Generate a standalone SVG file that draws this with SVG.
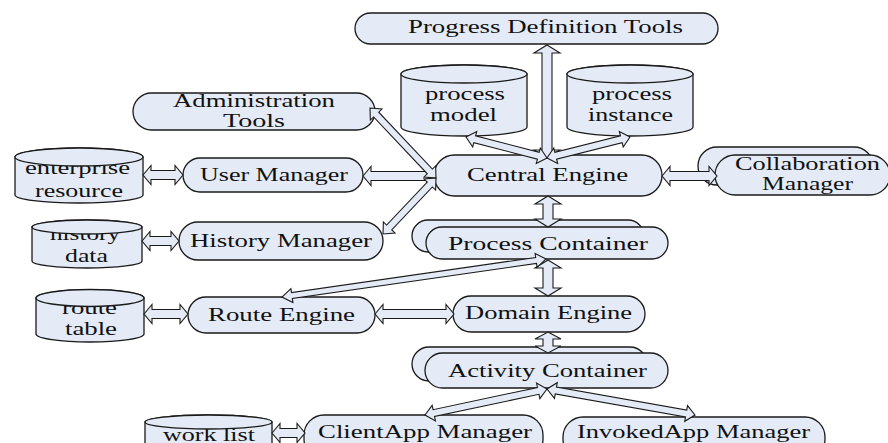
<svg xmlns="http://www.w3.org/2000/svg" width="888" height="443" viewBox="0 0 888 443">
<style>
.n{fill:#E4EBF6;stroke:#1a1a1a;stroke-width:1.3}
.c{fill:#E4EBF6;stroke:#1a1a1a;stroke-width:1.3}
.a{fill:#E4EBF6;stroke:#1a1a1a;stroke-width:1.1;stroke-linejoin:miter}
text{font-family:"Liberation Serif","Times New Roman",serif;font-size:19px;fill:#111}
</style>
<rect width="888" height="443" fill="#fff"/>

<g id="progress-definition-tools">
<rect class="n" x="355" y="13" width="363" height="31" rx="15.5"/>
<text x="408" y="33" textLength="275" lengthAdjust="spacingAndGlyphs">Progress Definition Tools</text>
</g>

<g id="process-model">
<path class="c" d="M401 74 L401 127 A63 9 0 0 0 527 127 L527 74 A63 9 0 0 0 401 74 Z"/>
<ellipse class="c" cx="464" cy="74" rx="63" ry="9"/>
<text x="425" y="100" textLength="80" lengthAdjust="spacingAndGlyphs">process</text>
<text x="430" y="121" textLength="67" lengthAdjust="spacingAndGlyphs">model</text>
</g>

<g id="process-instance">
<path class="c" d="M567 74 L567 127 A63 9 0 0 0 693 127 L693 74 A63 9 0 0 0 567 74 Z"/>
<ellipse class="c" cx="630" cy="74" rx="63" ry="9"/>
<text x="592" y="100" textLength="80" lengthAdjust="spacingAndGlyphs">process</text>
<text x="588" y="121" textLength="85" lengthAdjust="spacingAndGlyphs">instance</text>
</g>

<g id="administration-tools">
<rect class="n" x="133" y="93" width="242" height="37" rx="18.5"/>
<text x="173" y="107" textLength="162" lengthAdjust="spacingAndGlyphs">Administration</text>
<text x="223" y="127" textLength="62" lengthAdjust="spacingAndGlyphs">Tools</text>
</g>

<g id="enterprise-resource">
<path class="c" d="M15 157 L15 195 A64 8 0 0 0 143 195 L143 157 A64 9 0 0 0 15 157 Z"/>
<text x="25" y="174" textLength="105" lengthAdjust="spacingAndGlyphs">enterprise</text>
<ellipse class="c" cx="79" cy="157" rx="64" ry="9"/>
<text x="35" y="197" textLength="88" lengthAdjust="spacingAndGlyphs">resource</text>
</g>

<g id="user-manager">
<rect class="n" x="183" y="158" width="180" height="34" rx="17"/>
<text x="200" y="181" textLength="148" lengthAdjust="spacingAndGlyphs">User Manager</text>
</g>

<g id="central-engine">
<rect class="n" x="434" y="155" width="228" height="41" rx="20.5"/>
<text x="467" y="181" textLength="161" lengthAdjust="spacingAndGlyphs">Central Engine</text>
</g>

<g id="collaboration-manager">
<rect class="n" x="698" y="147" width="175" height="38" rx="19"/>
<rect class="n" x="715" y="155" width="175" height="40" rx="20"/>
<text x="735" y="170" textLength="145" lengthAdjust="spacingAndGlyphs">Collaboration</text>
<text x="762" y="190" textLength="91" lengthAdjust="spacingAndGlyphs">Manager</text>
</g>

<g id="history-data">
<path class="c" d="M32 227 L32 261 A55 7 0 0 0 142 261 L142 227 A55 7 0 0 0 32 227 Z"/>
<text x="50" y="240" textLength="70" lengthAdjust="spacingAndGlyphs">history</text>
<ellipse class="c" cx="87" cy="227" rx="55" ry="7"/>
<text x="65" y="262" textLength="43" lengthAdjust="spacingAndGlyphs">data</text>
</g>

<g id="history-manager">
<rect class="n" x="179" y="222" width="204" height="38" rx="19"/>
<text x="190" y="247" textLength="182" lengthAdjust="spacingAndGlyphs">History Manager</text>
</g>

<g id="process-container">
<rect class="n" x="412" y="220" width="232" height="32" rx="16"/>
<rect class="n" x="426" y="227" width="242" height="32" rx="16"/>
<text x="448" y="250" textLength="200" lengthAdjust="spacingAndGlyphs">Process  Container</text>
</g>

<g id="route-table">
<path class="c" d="M36 298 L36 334 A54 8 0 0 0 144 334 L144 298 A54 8 0 0 0 36 298 Z"/>
<text x="62" y="314" textLength="55" lengthAdjust="spacingAndGlyphs">route</text>
<ellipse class="c" cx="90" cy="298" rx="54" ry="8.5"/>
<text x="65" y="335" textLength="52" lengthAdjust="spacingAndGlyphs">table</text>
</g>

<g id="route-engine">
<rect class="n" x="188" y="297" width="187" height="36" rx="18"/>
<text x="208" y="321" textLength="147" lengthAdjust="spacingAndGlyphs">Route Engine</text>
</g>

<g id="domain-engine">
<rect class="n" x="453" y="296" width="192" height="36" rx="18"/>
<text x="465" y="319" textLength="167" lengthAdjust="spacingAndGlyphs">Domain Engine</text>
</g>

<g id="activity-container">
<rect class="n" x="412" y="347" width="235" height="34" rx="17"/>
<rect class="n" x="425" y="353" width="243" height="35" rx="17.5"/>
<text x="448" y="377" textLength="199" lengthAdjust="spacingAndGlyphs">Activity Container</text>
</g>

<g id="work-list">
<path class="c" d="M145 422 L145 460 A63.5 7 0 0 0 272 460 L272 422 A63.5 7 0 0 0 145 422 Z"/>
<text x="163" y="441" textLength="92" lengthAdjust="spacingAndGlyphs">work list</text>
<ellipse class="c" cx="208.5" cy="422" rx="63.5" ry="7"/>
</g>

<g id="clientapp-manager">
<rect class="n" x="304" y="415" width="239" height="44" rx="20"/>
<text x="318" y="438" textLength="214" lengthAdjust="spacingAndGlyphs">ClientApp Manager</text>
</g>

<g id="invokedapp-manager">
<rect class="n" x="563" y="417" width="262" height="42" rx="20"/>
<text x="577" y="438" textLength="233" lengthAdjust="spacingAndGlyphs">InvokedApp Manager</text>
</g>

<g id="connectors">
<polygon class="a" points="143,175 151,165.5 151,170.5 175,170.5 175,165.5 183,175 175,184.5 175,179.5 151,179.5 151,184.5"/>
<polygon class="a" points="363,176 371,166.5 371,171.5 427,171.5 427,166.5 435,176 427,185.5 427,180.5 371,180.5 371,185.5"/>
<polygon class="a" points="142,241 150,231.5 150,236.5 171,236.5 171,231.5 179,241 171,250.5 171,245.5 150,245.5 150,250.5"/>
<polygon class="a" points="144,314 152,304.5 152,309.5 180,309.5 180,304.5 188,314 180,323.5 180,318.5 152,318.5 152,323.5"/>
<polygon class="a" points="375,314 383,304.5 383,309.5 446,309.5 446,304.5 454,314 446,323.5 446,318.5 383,318.5 383,323.5"/>
<polygon class="a" points="662,176 670,166.5 670,171.5 709,171.5 709,166.5 717,176 709,185.5 709,180.5 670,180.5 670,185.5"/>
<polygon class="a" points="272,433 280,423.5 280,428.5 297,428.5 297,423.5 305,433 297,442.5 297,437.5 280,437.5 280,442.5"/>
<polygon class="a" points="547,45 560,53 552,53 552,150 560,150 547,158 534,150 542,150 542,53 534,53"/>
<polygon class="a" points="548,196 561,204 553,204 553,219 561,219 548,227 535,219 543,219 543,204 535,204"/>
<polygon class="a" points="548,260 561,268 553,268 553,288 561,288 548,296 535,288 543,288 543,268 535,268"/>
<polygon class="a" points="548,332 561,339 553,339 553,346 561,346 548,353 535,346 543,346 543,339 535,339"/>
<polygon class="a" points="547,158 540.3,148 539.17,152.35 475.59,135.87 476.72,131.52 466,137 472.7,147 473.83,142.65 537.41,159.13 536.28,163.48"/>
<polygon class="a" points="547,158 557.68,163.55 556.58,159.18 622.14,142.6 623.24,146.97 630,137 619.32,131.45 620.42,135.82 554.86,152.4 553.76,148.03"/>
<polygon class="a" points="436,178 435.65,165.96 432.38,169.05 378.72,112.15 381.99,109.06 370,108 370.35,120.04 373.62,116.95 427.28,173.85 424.01,176.94"/>
<polygon class="a" points="436,178 424,179.04 427.27,182.13 386.65,225.05 383.38,221.96 383,234 395,232.96 391.73,229.87 432.35,186.95 435.62,190.04"/>
<polygon class="a" points="546,259 535.1,253.5 535.67,257.46 291.47,292.6 290.9,288.64 282,297 292.9,302.5 292.33,298.54 536.53,263.4 537.1,267.36"/>
<polygon class="a" points="547,389 536.53,383.06 537.47,387.46 433.07,409.7 432.13,405.3 425,415 435.47,420.94 434.53,416.54 538.93,394.3 539.87,398.7"/>
<polygon class="a" points="547,389 554.48,398.44 555.25,394.01 685.53,416.89 684.76,421.32 695,415 687.52,405.56 686.75,409.99 556.47,387.11 557.24,382.68"/>
</g>
</svg>
